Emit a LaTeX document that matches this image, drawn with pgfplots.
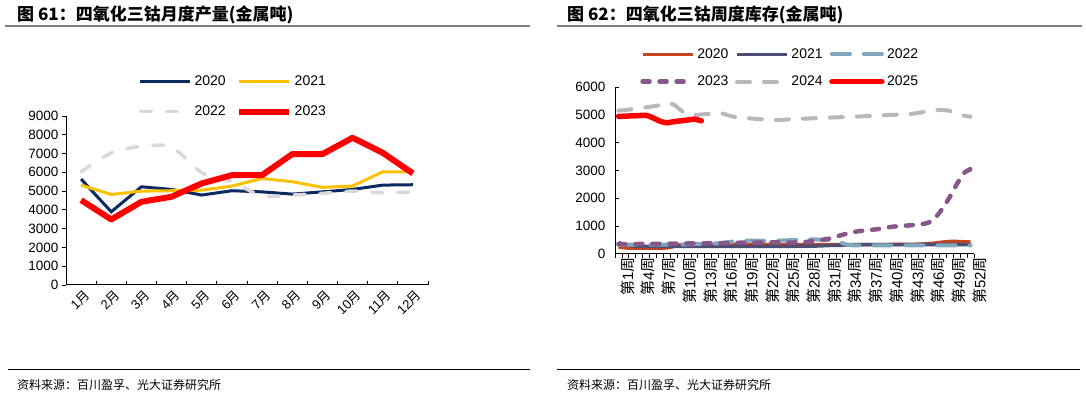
\documentclass[border=0pt]{standalone}
\usepackage{fontspec}
\setmainfont{Liberation Sans}
\newfontfamily\cjk{Noto Sans CJK SC}
\usepackage{pgfplots}
\pgfplotsset{compat=1.18}
\usepackage{pgfplotstable}
\definecolor{c20}{HTML}{0B2A60}
\definecolor{c21}{HTML}{FFC000}
\definecolor{c22}{HTML}{D9D9D9}
\definecolor{c23}{HTML}{FF0000}
\definecolor{r20}{HTML}{C4461E}
\definecolor{r21}{HTML}{4E4E74}
\definecolor{r22}{HTML}{7FA8C0}
\definecolor{r23}{HTML}{87578A}
\definecolor{r24}{HTML}{B8B8B8}
\definecolor{r25}{HTML}{FF0000}
\newcommand\wk[1]{{\cjk 第}#1{\cjk 周}}
\newcommand\mo[1]{#1{\cjk 月}}

\pgfplotstableread{
m y2020 y2021 y2022 y2023
1 5640 5320 6030 4520
2 3900 4820 7040 3490
3 5230 5000 7390 4430
4 5090 5020 7360 4700
5 4790 5050 5980 5410
6 5020 5270 5500 5850
7 4960 5670 4730 5850
8 4840 5500 4790 6970
9 4960 5200 4880 6970
10 5090 5270 5000 7840
11 5320 6030 4910 7040
12 5340 6030 4960 5940
}\monthly

\pgfplotstableread{
w a20 a21 a22 a23 a24
1 250 400 320 350 5160
2 210 330 330 340 5180
3 200 280 330 340 5210
4 200 260 330 350 5240
5 200 260 330 350 5280
6 200 260 330 350 5310
7 200 260 330 360 5360
8 210 260 330 360 5420
9 260 260 330 360 5380
10 320 260 330 370 5180
11 330 260 340 370 5040
12 330 260 350 370 5000
13 330 260 350 370 5020
14 330 260 360 380 5040
15 330 260 370 380 5060
16 330 260 390 380 5060
17 330 260 420 390 4980
18 330 260 450 390 4920
19 330 260 470 400 4890
20 330 260 470 400 4880
21 330 260 470 400 4860
22 330 260 460 410 4840
23 330 260 460 410 4830
24 330 260 470 410 4820
25 330 260 480 410 4830
26 330 260 490 400 4850
27 330 270 500 410 4860
28 330 270 510 420 4870
29 330 270 520 450 4880
30 330 280 510 480 4890
31 330 290 500 520 4900
32 330 300 480 570 4910
33 330 300 420 650 4920
34 330 310 330 720 4930
35 330 320 300 780 4940
36 330 330 300 820 4950
37 330 330 300 840 4960
38 330 330 300 870 4970
39 330 330 300 900 4980
40 330 330 300 950 5000
41 340 330 300 980 5010
42 340 330 300 1000 5020
43 340 330 300 1020 5030
44 340 330 300 1040 5060
45 350 330 300 1070 5100
46 360 330 300 1130 5150
47 390 330 300 1330 5180
48 420 330 300 1650 5180
49 440 330 300 2050 5150
50 440 330 300 2500 5050
51 430 330 300 2900 4980
52 420 330 300 3050 4940
}\weekly

\pgfplotstableread{
w a25
1 4950
2 4960
3 4970
4 4980
5 4990
6 4900
7 4780
8 4720
9 4760
10 4790
11 4820
12 4850
13 4790
}\weeklyb

\begin{document}
\begin{tikzpicture}[x=1pt,y=1pt]
\useasboundingbox (0,0) rectangle (1086,396);
% headers and footers
\node[anchor=west, inner sep=0, font=\cjk\bfseries\fontsize{17}{20}\selectfont] at (17,381.5) {图 61：四氧化三钴月度产量(金属吨)};
\node[anchor=west, inner sep=0, font=\cjk\bfseries\fontsize{17}{20}\selectfont] at (567,381.5) {图 62：四氧化三钴周度库存(金属吨)};
\draw[gray, line width=1.2pt] (5,370) -- (530,370);
\draw[gray, line width=1.2pt] (557,370) -- (1082,370);
\draw[black, line width=1pt] (8,27) -- (530,27);
\draw[black, line width=1pt] (557,27) -- (1080,27);
\node[anchor=west, inner sep=0, font=\cjk\fontsize{12}{14}\selectfont] at (17,11) {资料来源：百川盈孚、光大证券研究所};
\node[anchor=west, inner sep=0, font=\cjk\fontsize{12}{14}\selectfont] at (567,11) {资料来源：百川盈孚、光大证券研究所};

\pgfplotsset{
  common/.style={
    scale only axis,
    axis x line*=bottom, axis y line*=left,
    axis line style={black, line width=1pt},
    tick style={black, line width=0.8pt},
    major tick length=4pt,
    /pgf/number format/assume math mode=true,
    /pgf/number format/1000 sep={},
    tick label style={font=\fontsize{13.5}{16}\selectfont},
    legend image code/.code={\draw[##1] (0pt,0pt) -- (50pt,0pt);},
    legend style={draw=none, fill=none, inner sep=0pt, font=\fontsize{14}{16}\selectfont,
      nodes={inner sep=2.5pt}},
  }
}

% left chart
\begin{axis}[common,
  at={(66pt,111pt)}, anchor=south west,
  width=362pt, height=169pt,
  xmin=0.5, xmax=12.5, ymin=0, ymax=9000,
  ytick={0,1000,...,9000},
  ytick align=outside, xtick align=inside,
  xtick={0.5,1.5,...,12.5}, xticklabels={},
  extra x ticks={1,...,12},
  extra x tick labels={\mo{1},\mo{2},\mo{3},\mo{4},\mo{5},\mo{6},\mo{7},\mo{8},\mo{9},\mo{10},\mo{11},\mo{12}},
  extra x tick style={major tick length=0pt, xticklabel style={rotate=45, anchor=east, yshift=-10pt, xshift=2pt, font=\fontsize{13}{15}\selectfont}},
  legend columns=2,
  legend style={at={(0.2,1.255)}, anchor=north west, row sep=14pt,
    /tikz/every even column/.append style={column sep=8pt}},
]
\addplot[c20, line width=3pt] table[x=m, y=y2020] {\monthly};
\addlegendentry{2020}
\addplot[c21, line width=3pt] table[x=m, y=y2021] {\monthly};
\addlegendentry{2021}
\addplot[c22, line width=3.5pt, dash pattern=on 11pt off 15pt, line cap=round, smooth, tension=0.4] table[x=m, y=y2022] {\monthly};
\addlegendentry{2022}
\addplot[c23, line width=6pt, line join=round] table[x=m, y=y2023] {\monthly};
\addlegendentry{2023}
\end{axis}

% right chart
\begin{axis}[common,
  at={(615pt,142.3pt)}, anchor=south west,
  width=359pt, height=166.4pt,
  xmin=0.5, xmax=52.5, ymin=0, ymax=6000,
  ytick={0,1000,...,6000},
  ytick align=inside, xtick align=outside,
  xtick={0.5,1.5,...,52.5}, xticklabels={},
  extra x ticks={1,4,...,52},
  extra x tick labels={\wk{1},\wk{4},\wk{7},\wk{10},\wk{13},\wk{16},\wk{19},\wk{22},\wk{25},\wk{28},\wk{31},\wk{34},\wk{37},\wk{40},\wk{43},\wk{46},\wk{49},\wk{52}},
  extra x tick style={major tick length=0pt, xticklabel style={rotate=90, anchor=east, yshift=-9pt, font=\fontsize{15}{17}\selectfont}},
  yticklabel style={xshift=-6pt},
  legend columns=3,
  legend style={at={(0.07,1.248)}, anchor=north west, row sep=11pt,
    /tikz/every even column/.append style={column sep=4pt}},
]
\addplot[r20, line width=3.5pt, smooth, tension=0.4] table[x=w, y=a20] {\weekly};
\addlegendentry{2020}
\addplot[r21, line width=3.5pt, smooth, tension=0.4] table[x=w, y=a21] {\weekly};
\addlegendentry{2021}
\addplot[r22, line width=4pt, dash pattern=on 18pt off 14pt, line cap=round, smooth, tension=0.4] table[x=w, y=a22] {\weekly};
\addlegendentry{2022}
\addplot[r23, line width=4.5pt, dash pattern=on 7pt off 10pt, line cap=round, smooth, tension=0.4] table[x=w, y=a23] {\weekly};
\addlegendentry{2023}
\addplot[r24, line width=4pt, dash pattern=on 13pt off 14pt, line cap=round, smooth, tension=0.4] table[x=w, y=a24] {\weekly};
\addlegendentry{2024}
\addplot[r25, line width=5.5pt, line cap=round, smooth, tension=0.4] table[x=w, y=a25] {\weeklyb};
\addlegendentry{2025}
\end{axis}
\end{tikzpicture}
\end{document}
